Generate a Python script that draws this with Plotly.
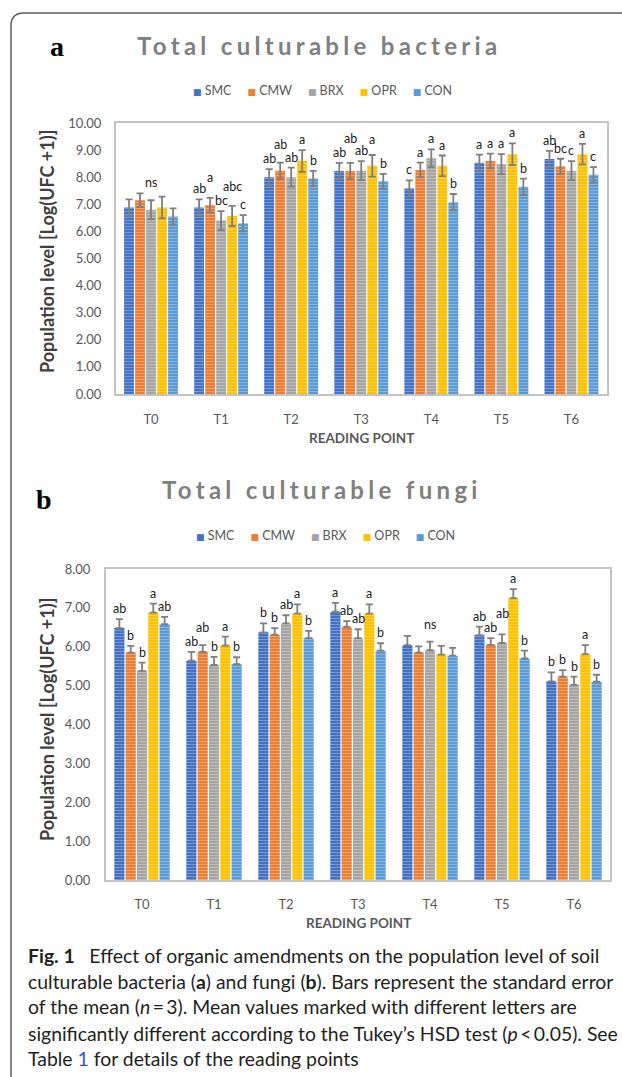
import plotly.graph_objects as go

W, H = 622, 1077

categories = ["T0", "T1", "T2", "T3", "T4", "T5", "T6"]
treatments = ["SMC", "CMW", "BRX", "OPR", "CON"]
series_colors = ["#4472C4", "#ED7D31", "#A5A5A5", "#FFC000", "#5B9BD5"]
ytick_a = [0, 1, 2, 3, 4, 5, 6, 7, 8, 9, 10]
ytick_b = [0, 1, 2, 3, 4, 5, 6, 7, 8]

# Panel a: total culturable bacteria (mean, +/- SE)
bact_smc = [6.88, 6.88, 8.00, 8.23, 7.58, 8.53, 8.67]
bact_cmw = [7.15, 6.97, 8.24, 8.23, 8.27, 8.60, 8.40]
bact_brx = [6.80, 6.40, 8.00, 8.24, 8.70, 8.48, 8.24]
bact_opr = [6.88, 6.57, 8.60, 8.42, 8.42, 8.85, 8.85]
bact_con = [6.55, 6.30, 7.95, 7.85, 7.08, 7.65, 8.09]
bact_se_smc = [0.30, 0.30, 0.30, 0.30, 0.30, 0.30, 0.30]
bact_se_cmw = [0.25, 0.27, 0.30, 0.30, 0.27, 0.27, 0.28]
bact_se_brx = [0.35, 0.35, 0.35, 0.35, 0.33, 0.37, 0.35]
bact_se_opr = [0.40, 0.37, 0.40, 0.40, 0.38, 0.40, 0.38]
bact_se_con = [0.30, 0.30, 0.28, 0.27, 0.30, 0.30, 0.28]
bact_let_smc = ["", "ab", "ab", "ab", "c", "a", "ab"]
bact_let_cmw = ["", "a", "ab", "ab", "a", "a", "bc"]
bact_let_brx = ["", "bc", "ab", "ab", "a", "a", "c"]
bact_let_opr = ["", "abc", "a", "a", "a", "a", "a"]
bact_let_con = ["", "c", "b", "b", "b", "b", "c"]
bact_group_labels = {"T0": "ns"}

# Panel b: total culturable fungi (mean, + SE)
fung_smc = [6.48, 5.64, 6.37, 6.90, 6.04, 6.30, 5.11]
fung_cmw = [5.85, 5.87, 6.31, 6.51, 5.85, 6.05, 5.23]
fung_brx = [5.38, 5.53, 6.60, 6.22, 5.91, 6.10, 5.02]
fung_opr = [6.88, 6.03, 6.85, 6.85, 5.80, 7.25, 5.81]
fung_con = [6.58, 5.55, 6.22, 5.90, 5.77, 5.70, 5.10]
fung_se_smc = [0.23, 0.23, 0.23, 0.23, 0.24, 0.22, 0.23]
fung_se_cmw = [0.17, 0.17, 0.17, 0.15, 0.16, 0.17, 0.17]
fung_se_brx = [0.21, 0.21, 0.21, 0.23, 0.22, 0.22, 0.21]
fung_se_opr = [0.23, 0.23, 0.24, 0.24, 0.22, 0.23, 0.23]
fung_se_con = [0.19, 0.18, 0.19, 0.19, 0.20, 0.20, 0.18]
fung_let_smc = ["ab", "ab", "b", "a", "", "ab", "b"]
fung_let_cmw = ["b", "ab", "b", "ab", "", "ab", "b"]
fung_let_brx = ["b", "b", "ab", "ab", "", "ab", "b"]
fung_let_opr = ["a", "a", "a", "a", "", "a", "a"]
fung_let_con = ["ab", "b", "b", "b", "", "b", "b"]
fung_group_labels = {"T4": "ns"}

bact_vals = [bact_smc, bact_cmw, bact_brx, bact_opr, bact_con]
bact_errs = [bact_se_smc, bact_se_cmw, bact_se_brx, bact_se_opr, bact_se_con]
bact_lets = [bact_let_smc, bact_let_cmw, bact_let_brx, bact_let_opr, bact_let_con]
fung_vals = [fung_smc, fung_cmw, fung_brx, fung_opr, fung_con]
fung_errs = [fung_se_smc, fung_se_cmw, fung_se_brx, fung_se_opr, fung_se_con]
fung_lets = [fung_let_smc, fung_let_cmw, fung_let_brx, fung_let_opr, fung_let_con]

BARGAP = 0.215
FONT = "Lato"
TXT = "#595959"


def X(px):
    return px / W


def Y(py):
    return 1 - py / H


# plot frames (pixels)
A_L, A_R, A_T, A_B = 116, 606.5, 123, 394
B_L, B_R, B_T, B_B = 106, 610, 569, 880
ppu_a = (A_B - A_T) / 10.0
ppu_b = (B_B - B_T) / 8.0

fig = go.Figure()


def add_bars(vals, errs, xa, ya, symmetric):
    for name, col, v, e in zip(treatments, series_colors, vals, errs):
        err = dict(type="data", array=e, color="#7f7f7f", thickness=1.8, width=3.5)
        if symmetric:
            err["symmetric"] = True
        else:
            err["symmetric"] = False
            err["arrayminus"] = [0] * len(e)
        fig.add_trace(go.Bar(
            x=categories, y=v, name=name, xaxis=xa, yaxis=ya,
            showlegend=False, error_y=err,
            marker=dict(color=col, line=dict(width=0),
                        pattern=dict(shape="-", fillmode="overlay",
                                     fgcolor="rgba(255,255,255,0.55)",
                                     size=3, solidity=0.35)),
        ))


add_bars(bact_vals, bact_errs, "x", "y", True)
add_bars(fung_vals, fung_errs, "x2", "y2", False)

annotations = []


def letter_annotations(vals, errs, lets, group_labels, ppu, xref, yref):
    n = len(treatments)
    gw = 1 - BARGAP
    for ci, cat in enumerate(categories):
        prev = None
        tops = []
        for ti in range(n):
            top = vals[ti][ci] + errs[ti][ci]
            tops.append(top)
            lab = lets[ti][ci]
            if not lab:
                continue
            px = top * ppu + 10.5
            if prev and len(lab) + len(prev[1]) >= 3 and abs(px - prev[0]) < 7.5:
                if len(lab) > 1 and len(prev[1]) > 1:
                    px = prev[0] + 14
                elif top >= prev[2]:
                    px = prev[0] + 11
            prev = (px, lab, top)
            xc = ci - gw / 2 + gw / n * (ti + 0.5)
            annotations.append(dict(x=xc, y=px / ppu, xref=xref, yref=yref, text=lab,
                                    showarrow=False, xanchor="center", yanchor="middle",
                                    font=dict(family=FONT, size=12.5, color="#222222")))
        if cat in group_labels:
            px = max(tops) * ppu + 11
            annotations.append(dict(x=ci, y=px / ppu, xref=xref, yref=yref,
                                    text=group_labels[cat], showarrow=False,
                                    xanchor="center", yanchor="middle",
                                    font=dict(family=FONT, size=12.5, color="#222222")))


letter_annotations(bact_vals, bact_errs, bact_lets, bact_group_labels, ppu_a, "x", "y")
letter_annotations(fung_vals, fung_errs, fung_lets, fung_group_labels, ppu_b, "x2", "y2")


def paper_text(px, py, text, size, color="#000000", family=FONT, weight="normal",
               xanchor="center", angle=0):
    annotations.append(dict(x=X(px), y=Y(py), xref="paper", yref="paper", text=text,
                            showarrow=False, xanchor=xanchor, yanchor="middle",
                            textangle=angle,
                            font=dict(family=family, size=size, color=color, weight=weight)))


def legend_text():
    parts = []
    for name, col in zip(treatments, series_colors):
        parts.append('<span style="color:%s;font-family:DejaVu Sans;font-size:9px">\u25A0</span>'
                     '<span style="color:%s">\u00a0%s</span>' % (col, TXT, name))
    return "\u00a0\u00a0\u00a0\u00a0\u00a0".join(parts)


# panel letters
paper_text(57, 47, "a", 28, family="Liberation Serif", weight="bold")
paper_text(44, 499, "b", 28, family="Liberation Serif", weight="bold")
# titles
paper_text(318.5, 45, '<span style="letter-spacing:4.3px">Total culturable bacteria</span>',
           24, color="#808080", weight="bold")
paper_text(322, 490, '<span style="letter-spacing:4.3px">Total culturable fungi</span>',
           24, color="#808080", weight="bold")
# legends
paper_text(322, 91, legend_text(), 12.5)
paper_text(325, 535, legend_text(), 12.5)
# axis titles
ytitle = "Population level [Log(UFC +1)]"
paper_text(47, 252, ytitle, 18, color="#404040", weight="bold", angle=-90)
paper_text(47, 720, ytitle, 18, color="#404040", weight="bold", angle=-90)
paper_text((A_L + A_R) / 2, 438, "READING POINT", 13.5, color=TXT, weight="bold")
paper_text((B_L + B_R) / 2, 923, "READING POINT", 13.5, color=TXT, weight="bold")

# caption
cap_lines = [
    "<b>Fig. 1</b>\u2002 Effect of organic amendments on the population level of soil",
    "culturable bacteria (<b>a</b>) and fungi (<b>b</b>). Bars represent the standard error",
    "of the mean (<i>n</i>\u2009=\u20093). Mean values marked with different letters are",
    "significantly different according to the Tukey\u2019s HSD test (<i>p</i>\u2009&lt;\u20090.05). See",
    'Table <span style="color:#3355cc">1</span> for details of the reading points',
]
cap_y = [955, 981, 1007, 1033, 1058]
for line, yy in zip(cap_lines, cap_y):
    paper_text(26, yy, line, 19.4, color="#231f20", xanchor="left")

axis_common = dict(showline=True, mirror=True, linecolor="#c3c3c3", linewidth=2,
                   showgrid=False, zeroline=False, ticks="", automargin=False,
                   fixedrange=True)

fig.update_layout(
    width=W, height=H, autosize=False,
    margin=dict(l=0, r=0, t=0, b=0),
    paper_bgcolor="white", plot_bgcolor="white",
    barmode="group", bargap=BARGAP, bargroupgap=0.1,
    font=dict(family=FONT, color=TXT),
    showlegend=False,
    xaxis=dict(domain=[X(A_L), X(A_R)], anchor="y", type="category",
               tickfont=dict(family=FONT, size=13, color=TXT),
               ticklabelstandoff=12, **axis_common),
    yaxis=dict(domain=[Y(A_B), Y(A_T)], anchor="x", range=[0, 10],
               tickvals=ytick_a, tickformat=".2f",
               tickfont=dict(family=FONT, size=13, color=TXT),
               ticklabelstandoff=10, **axis_common),
    xaxis2=dict(domain=[X(B_L), X(B_R)], anchor="y2", type="category",
                tickfont=dict(family=FONT, size=13, color=TXT),
                ticklabelstandoff=11, **axis_common),
    yaxis2=dict(domain=[Y(B_B), Y(B_T)], anchor="x2", range=[0, 8],
                tickvals=ytick_b, tickformat=".2f",
                tickfont=dict(family=FONT, size=13, color=TXT),
                ticklabelstandoff=11, **axis_common),
    annotations=annotations,
    shapes=[dict(type="path", xref="paper", yref="paper",
                 path="M %f,%f L %f,%f Q %f,%f %f,%f L %f,%f" % (
                     X(11), Y(1077), X(11), Y(26), X(11), Y(13), X(24), Y(13), X(622), Y(13)),
                 line=dict(color="#5f5f5f", width=1.5))],
)

fig.write_html("out.html", config={"displayModeBar": False},
               post_script="document.body.style.margin='0';document.body.style.overflow='hidden';")
